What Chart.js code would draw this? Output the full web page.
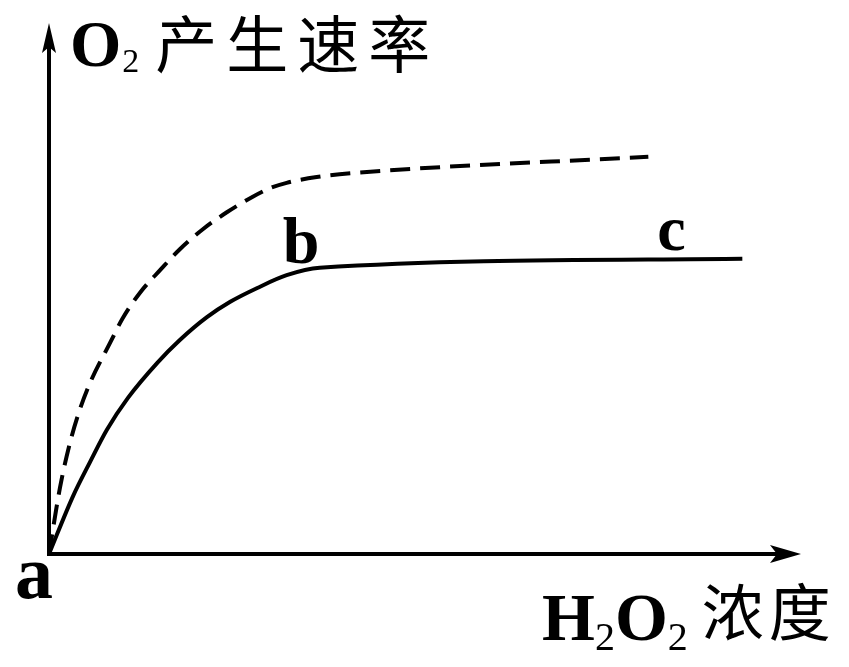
<!DOCTYPE html>
<html>
<head>
<meta charset="utf-8">
<script src="https://cdn.jsdelivr.net/npm/chart.js@4.4.1/dist/chart.umd.min.js"></script>
<style>
  html, body { margin: 0; padding: 0; background: #fff; }
  #wrap { width: 849px; height: 667px; }
</style>
</head>
<body>
<div id="wrap"><canvas id="c" width="849" height="667"></canvas></div>
<script>
// Data (x: H2O2 concentration, y: O2 production rate), arbitrary units 0-100
const solidX  = [0, 3.2, 5.45, 7.7, 10.5, 14.4, 17.4, 21.0, 24.1, 27.7, 31.6, 36.0, 92.2];
const solidY  = [0, 10.9, 17.3, 23.4, 29.4, 36.0, 40.3, 44.6, 47.5, 50.1, 52.5, 53.9, 55.6];
const dashedX = [0, 1.46, 2.8, 4.1, 5.45, 8.1, 9.8, 12.1, 14.8, 17.4, 20.5, 23.7, 27.1, 29.4, 31.6, 35.6, 41.0, 79.7];
const dashedY = [0, 12.5, 21.0, 27.2, 32.2, 39.7, 44.4, 49.2, 53.5, 57.4, 61.2, 64.4, 67.3, 68.9, 69.9, 71.0, 71.8, 74.8];
const pointLabels = [
  { text: 'a', x: 0,    y: 0 },
  { text: 'b', x: 36.0, y: 53.9 },
  { text: 'c', x: 82.6, y: 55.4 }
];
const yTitle = { main: 'O', sub: '2', cjk: '产生速率' };
const xTitle = { parts: [['H', false], ['2', true], ['O', false], ['2', true]], cjk: '浓度' };

const toPts = (xs, ys) => xs.map((x, i) => ({ x: x, y: ys[i] }));

const SERIF = '"Liberation Serif", "Times New Roman", serif';
const CJK = '"Noto Sans CJK SC", sans-serif';

const decor = {
  id: 'decor',
  afterDraw(chart) {
    const ctx = chart.ctx;
    const a = chart.chartArea;
    const xs = chart.scales.x, ys = chart.scales.y;
    ctx.save();
    ctx.fillStyle = '#000';
    ctx.strokeStyle = '#000';
    ctx.lineWidth = 4;
    ctx.lineCap = 'butt';
    const ox = xs.getPixelForValue(0), oy = ys.getPixelForValue(0);
    // axes
    ctx.beginPath();
    ctx.moveTo(ox, oy + 2);
    ctx.lineTo(ox, a.top + 20);
    ctx.moveTo(ox - 2, oy);
    ctx.lineTo(a.right - 20, oy);
    ctx.stroke();
    // arrow heads
    ctx.beginPath();
    ctx.moveTo(ox, a.top);
    ctx.lineTo(ox + 7, a.top + 30);
    ctx.lineTo(ox, a.top + 24);
    ctx.lineTo(ox - 7, a.top + 30);
    ctx.closePath();
    ctx.fill();
    ctx.beginPath();
    ctx.moveTo(a.right, oy);
    ctx.lineTo(a.right - 31, oy - 9);
    ctx.lineTo(a.right - 24, oy);
    ctx.lineTo(a.right - 31, oy + 9);
    ctx.closePath();
    ctx.fill();

    ctx.textBaseline = 'alphabetic';
    ctx.textAlign = 'left';
    // y title
    let x = ox + 21;
    ctx.font = 'bold 66px ' + SERIF;
    ctx.fillText(yTitle.main, x, 66);
    x += ctx.measureText(yTitle.main).width + 1;
    ctx.font = '34px ' + SERIF;
    ctx.fillText(yTitle.sub, x, 72);
    x += ctx.measureText(yTitle.sub).width + 16;
    ctx.font = '62px ' + CJK;
    ctx.letterSpacing = '9px';
    ctx.fillText(yTitle.cjk, x, 68);
    ctx.letterSpacing = '0px';

    // x title
    x = 542;
    for (const [t, sub] of xTitle.parts) {
      if (sub) {
        ctx.font = '40px ' + SERIF;
        ctx.fillText(t, x, 650);
      } else {
        ctx.font = 'bold 68px ' + SERIF;
        ctx.fillText(t, x, 640);
      }
      x += ctx.measureText(t).width;
    }
    x += 14;
    ctx.font = '62px ' + CJK;
    ctx.letterSpacing = '5px';
    ctx.fillText(xTitle.cjk, x, 636);
    ctx.letterSpacing = '0px';

    // point labels
    const offs = { a: [-34, 44, 76], b: [-37, -5, 66], c: [-13, -10, 64] };
    for (const p of pointLabels) {
      const o = offs[p.text];
      ctx.font = 'bold ' + o[2] + 'px ' + SERIF;
      ctx.fillText(p.text, xs.getPixelForValue(p.x) + o[0], ys.getPixelForValue(p.y) + o[1]);
    }
    ctx.restore();
  }
};

new Chart(document.getElementById('c'), {
  type: 'line',
  data: {
    datasets: [
      {
        label: 'solid',
        data: toPts(solidX, solidY),
        borderColor: '#000',
        borderWidth: 4,
        pointRadius: 0,
        cubicInterpolationMode: 'monotone',
        fill: false,
        clip: false
      },
      {
        label: 'dashed',
        data: toPts(dashedX, dashedY),
        borderColor: '#000',
        borderWidth: 4,
        borderDash: [20, 10],
        pointRadius: 0,
        cubicInterpolationMode: 'monotone',
        fill: false,
        clip: false
      }
    ]
  },
  options: {
    responsive: false,
    animation: false,
    events: [],
    layout: { padding: { left: 49, right: 48, top: 23, bottom: 113 } },
    plugins: { legend: { display: false }, tooltip: { enabled: false }, title: { display: false } },
    scales: {
      x: { type: 'linear', min: 0, max: 100, display: false },
      y: { type: 'linear', min: 0, max: 100, display: false }
    }
  },
  plugins: [decor]
});
</script>
</body>
</html>
